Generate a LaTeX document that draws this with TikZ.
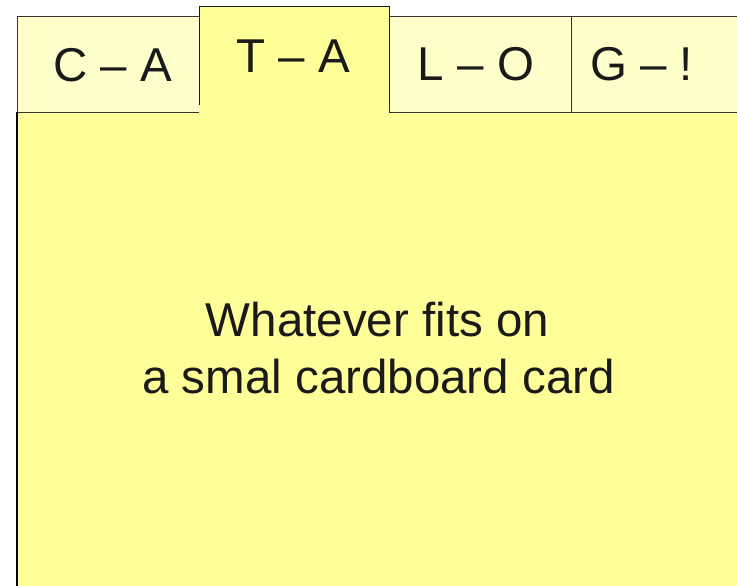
\documentclass[tikz,border=0pt]{standalone}
\usepackage{fontspec}
\setmainfont{Liberation Sans}
\definecolor{cardyellow}{HTML}{FFFF99}
\definecolor{tabyellow}{HTML}{FFFFCC}
\definecolor{inkdark}{HTML}{1A1A1A}
\tikzset{
  tabshape/.style={fill=tabyellow, draw=black!80, line width=0.9pt},
  activefill/.style={fill=cardyellow},
  activeedge/.style={draw=black!90, line width=0.9pt},
  cardedge/.style={draw=black, line width=1.1pt},
  tablabel/.style={anchor=base, inner sep=0pt, text=inkdark, font=\fontsize{47.5}{57}\selectfont},
  bodylabel/.style={anchor=base, inner sep=0pt, text=inkdark, font=\fontsize{47.5}{57}\selectfont}
}
\begin{document}
\begin{tikzpicture}[x=1pt,y=-1pt]
\useasboundingbox (0,0) rectangle (737,586);
% card
\fill[cardyellow] (17,112) rectangle (760,600);
\draw[cardedge] (17,600) -- (17,112);
% inactive tabs
\draw[tabshape] (17,16.5) rectangle (210,112);
\draw[tabshape] (389,16.5) rectangle (571,112);
\draw[tabshape] (571,16.5) rectangle (760,112);
% active tab
\fill[activefill] (199,6) rectangle (389,113.5);
\draw[activeedge] (199,105) -- (199,6) -- (389,6) -- (389,105);
% labels
\node[tablabel] (ca) at (112.5,82) {C – A};
\node[tablabel] (ta) at (293.5,73) {T – A};
\node[tablabel] (lo) at (476,81) {L – O};
\node[tablabel] (g) at (641.5,81) {G – !};
\node[bodylabel] (body1) at (377.5,336) {Whatever fits on};
\node[bodylabel] (body2) at (378.5,393) {a smal cardboard card};
\end{tikzpicture}
\end{document}
